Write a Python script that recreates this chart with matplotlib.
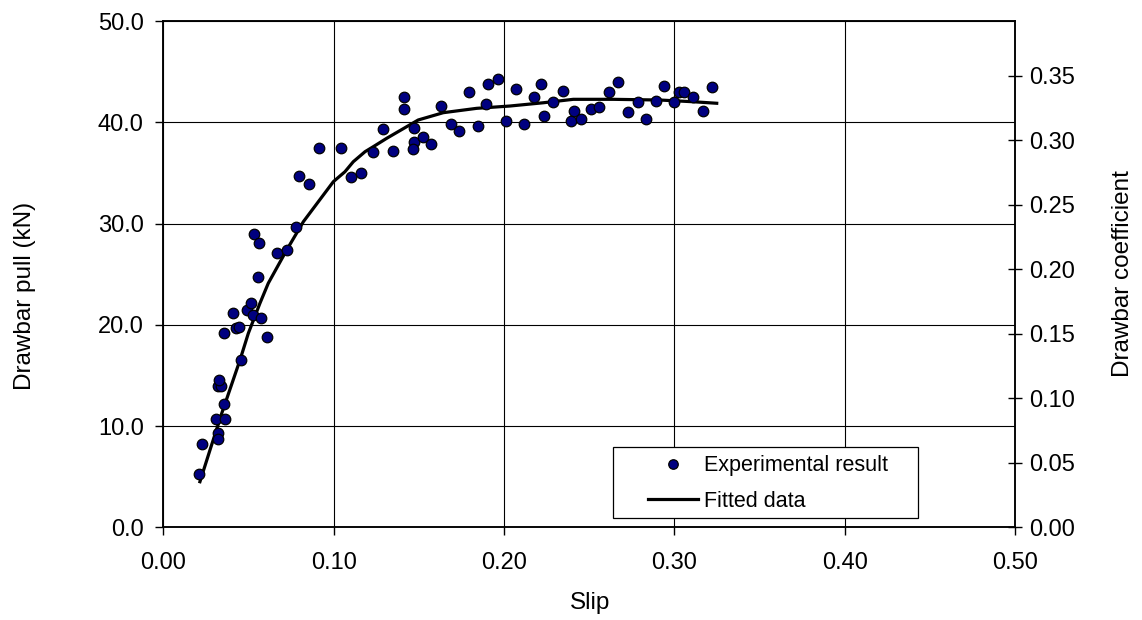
import numpy as np
import matplotlib.pyplot as plt
from matplotlib.patches import Rectangle
from matplotlib.ticker import FormatStrFormatter, MultipleLocator

plt.rcParams['font.family'] = ['Liberation Sans', 'DejaVu Sans']

# experimental points (slip, drawbar pull kN)
slip_exp = [0.0211, 0.0229, 0.0319, 0.0319, 0.0308, 0.0362, 0.0358, 0.0323, 0.0339, 0.0329,
            0.0456, 0.0358, 0.0427, 0.0446, 0.0407, 0.0493, 0.0515, 0.0525, 0.0573, 0.0610,
            0.0554, 0.0534, 0.0563, 0.0669, 0.0728, 0.0777, 0.0798, 0.0857, 0.0915, 0.1043,
            0.1102, 0.1160, 0.1229, 0.1288, 0.1346, 0.1414, 0.1414, 0.1473, 0.1473, 0.1464,
            0.1522, 0.1571, 0.1630, 0.1688, 0.1737, 0.1796, 0.1845, 0.1894, 0.1904, 0.1962,
            0.2011, 0.2070, 0.2119, 0.2177, 0.2217, 0.2236, 0.2285, 0.2344, 0.2393, 0.2412,
            0.2451, 0.2510, 0.2559, 0.2617, 0.2667, 0.2725, 0.2784, 0.2833, 0.2891, 0.2940,
            0.2999, 0.3028, 0.3058, 0.3107, 0.3169, 0.3218]
pull_exp = [5.28, 8.27, 9.36, 8.71, 10.74, 10.74, 12.22, 14.00, 14.00, 14.56,
            16.53, 19.17, 19.66, 19.82, 21.15, 21.47, 22.13, 20.98, 20.65, 18.84,
            24.76, 28.94, 28.06, 27.07, 27.39, 29.69, 34.70, 33.88, 37.43, 37.43,
            34.57, 35.02, 37.10, 39.36, 37.20, 42.47, 41.31, 39.47, 38.03, 37.33,
            38.52, 37.86, 41.64, 39.83, 39.17, 42.96, 39.66, 41.81, 43.78, 44.27,
            40.16, 43.29, 39.83, 42.47, 43.78, 40.65, 41.97, 43.12, 40.16, 41.14,
            40.33, 41.31, 41.48, 42.96, 43.95, 40.99, 41.97, 40.33, 42.13, 43.61,
            41.97, 42.96, 42.96, 42.47, 41.14, 43.45]

# fitted curve
slip_fit = [0.0215, 0.0274, 0.0343, 0.0450, 0.0499, 0.0567, 0.0616, 0.0724, 0.0822, 0.0998,
            0.1066, 0.1115, 0.1184, 0.1232, 0.1311, 0.1496, 0.1643, 0.1839, 0.2035, 0.2230,
            0.2406, 0.2641, 0.2915, 0.3110, 0.3248]
pull_fit = [4.52, 7.65, 11.27, 16.53, 19.17, 22.13, 24.11, 27.39, 30.19, 34.14,
            35.12, 36.11, 37.10, 37.59, 38.42, 40.23, 40.95, 41.38, 41.61, 41.93,
            42.27, 42.27, 42.20, 42.03, 41.88]

coef_ticks = [0.00, 0.05, 0.10, 0.15, 0.20, 0.25, 0.30, 0.35]
coef_top = 0.3926

fig = plt.figure(figsize=(11.42, 6.2), dpi=100)
ax = fig.add_axes([0.143, 0.1492, 0.746, 0.8169])

ax.grid(True, color='black', linewidth=0.8)
ax.set_axisbelow(True)

ax.plot(slip_fit, pull_fit, color='black', linewidth=2.3, label='Fitted data', zorder=2)
ax.plot(slip_exp, pull_exp, linestyle='none', marker='o', markersize=7.6,
        markerfacecolor='#000080', markeredgecolor='black', markeredgewidth=0.9,
        label='Experimental result', zorder=3)

ax.set_xlim(0, 0.5)
ax.set_ylim(0, 50)
ax.xaxis.set_major_locator(MultipleLocator(0.1))
ax.yaxis.set_major_locator(MultipleLocator(10))
ax.xaxis.set_major_formatter(FormatStrFormatter('%.2f'))
ax.yaxis.set_major_formatter(FormatStrFormatter('%.1f'))
ax.tick_params(axis='both', direction='out', length=6, width=1, labelsize=17)
ax.tick_params(axis='x', pad=12)
ax.tick_params(axis='y', pad=8)
for s in ax.spines.values():
    s.set_linewidth(1.1)

ax.set_xlabel('Slip', fontsize=17.5)
ax.xaxis.set_label_coords(0.5004, -0.127)
ax.set_ylabel('Drawbar pull (kN)', fontsize=17.5, va='center')
ax.yaxis.set_label_coords(-0.162, 0.457)

ax2 = ax.twinx()
ax2.set_ylim(0, coef_top)
ax2.set_yticks(coef_ticks)
ax2.yaxis.set_major_formatter(FormatStrFormatter('%.2f'))
ax2.tick_params(axis='y', direction='inout', length=10, width=1, labelsize=17, pad=5)
ax2.set_ylabel('Drawbar coefficient', fontsize=17.5, va='center')
ax2.yaxis.set_label_coords(1.127, 0.502)
for s in ax2.spines.values():
    s.set_linewidth(1.1)

# legend box
box = Rectangle((0.5277, 0.0188), 0.3583, 0.1407, transform=ax.transAxes,
                facecolor='white', edgecolor='black', linewidth=0.9, zorder=4)
ax.add_patch(box)

handles, labels = ax.get_legend_handles_labels()
leg = ax.legend(handles[::-1], labels[::-1], loc='upper left',
                bbox_to_anchor=(0.569, 0.143), borderaxespad=0, borderpad=0,
                fontsize=15.5, frameon=False, handlelength=2.33, handletextpad=0.25,
                markerscale=0.9, labelspacing=0.69)
leg.set_zorder(5)

fig.savefig('out.png', dpi=100)
